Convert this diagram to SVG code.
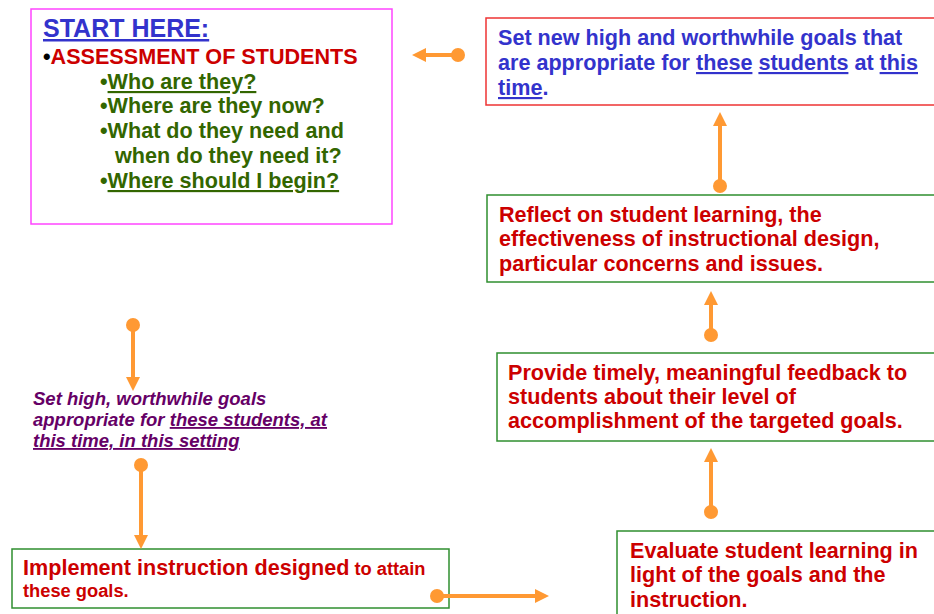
<svg xmlns="http://www.w3.org/2000/svg" width="934" height="614" viewBox="0 0 934 614">
  <style>
    text { font-family: "Liberation Sans", Arial, sans-serif; font-weight: bold; }
    .box { fill: #ffffff; stroke-width: 1.5; }
    .pink { stroke: #ff44ff; }
    .redline { stroke: #ee3333; }
    .greenline { stroke: #2f8f2f; }
    .blue { fill: #3333cc; }
    .red { fill: #cc0000; }
    .green { fill: #336600; }
    .purple { fill: #660066; font-style: italic; }
    .u { text-decoration: underline; }
    .big { font-size: 21.6px; }
    .conn { stroke: #ff9933; stroke-width: 4; fill: none; marker-start: url(#dot); marker-end: url(#head); }
  </style>
  <defs>
    <marker id="head" markerUnits="userSpaceOnUse" viewBox="0 0 14 14" refX="0" refY="7" markerWidth="14" markerHeight="14" orient="auto">
      <path d="M0,0 L14,7 L0,14 z" fill="#ff9933"/>
    </marker>
    <marker id="dot" markerUnits="userSpaceOnUse" viewBox="0 0 14 14" refX="7" refY="7" markerWidth="14" markerHeight="14" orient="auto">
      <circle cx="7" cy="7" r="7" fill="#ff9933"/>
    </marker>
  </defs>

  <rect width="934" height="614" fill="#ffffff"/>

  <!-- starting point: assessment -->
  <g id="start">
    <rect class="box pink" x="31" y="9" width="361" height="215"/>
    <text x="43" y="37" class="blue u" font-size="25">START HERE:</text>
    <text x="43" y="64" class="big"><tspan fill="#000000">•</tspan><tspan class="red">ASSESSMENT OF STUDENTS</tspan></text>
    <text x="100" y="89" class="big green">•<tspan class="u">Who are they?</tspan></text>
    <text x="100" y="113" class="big green">•Where are they now?</text>
    <text x="100" y="138" class="big green">•What do they need and</text>
    <text x="115" y="163" class="big green">when do they need it?</text>
    <text x="100" y="188" class="big green">•<tspan class="u">Where should I begin?</tspan></text>
  </g>

  <!-- new goals -->
  <g id="new-goals">
    <rect class="box redline" x="486" y="18" width="460" height="87"/>
    <text x="498" y="45" class="big blue">Set new high and worthwhile goals that</text>
    <text x="498" y="70" class="big blue">are appropriate for <tspan class="u">these</tspan> <tspan class="u">students</tspan> at <tspan class="u">this</tspan></text>
    <text x="498" y="95" class="big blue"><tspan class="u">time</tspan>.</text>
  </g>

  <!-- reflect -->
  <g id="reflect">
    <rect class="box greenline" x="487" y="195" width="460" height="87"/>
    <text x="499" y="222" class="big red">Reflect on student learning, the</text>
    <text x="499" y="246" class="big red">effectiveness of instructional design,</text>
    <text x="499" y="271" class="big red">particular concerns and issues.</text>
  </g>

  <!-- feedback -->
  <g id="feedback">
    <rect class="box greenline" x="497" y="353" width="450" height="88"/>
    <text x="508" y="380" class="big red">Provide timely, meaningful feedback to</text>
    <text x="508" y="404" class="big red">students about their level of</text>
    <text x="508" y="428" class="big red">accomplishment of the targeted goals.</text>
  </g>

  <!-- evaluate -->
  <g id="evaluate">
    <rect class="box greenline" x="617" y="531" width="330" height="100"/>
    <text x="630" y="558" class="big red">Evaluate student learning in</text>
    <text x="630" y="582" class="big red">light of the goals and the</text>
    <text x="630" y="607" class="big red">instruction.</text>
  </g>

  <!-- goal setting -->
  <g id="set-goals">
    <text x="33" y="405" class="purple" font-size="18.5">Set high, worthwhile goals</text>
    <text x="33" y="426" class="purple" font-size="18.5">appropriate for <tspan class="u">these students, at</tspan></text>
    <text x="33" y="447" class="purple u" font-size="18.5">this time, in this setting</text>
  </g>

  <!-- implement -->
  <g id="implement">
    <rect class="box greenline" x="12" y="549" width="437" height="59"/>
    <text x="23" y="575" class="red"><tspan font-size="21.6">Implement instruction designed</tspan><tspan font-size="18.3"> to attain</tspan></text>
    <text x="23" y="597" class="red" font-size="18.3">these goals.</text>
  </g>

  <!-- connectors -->
  <g id="connectors">
    <line class="conn" x1="458" y1="55" x2="426" y2="55"/>
    <line class="conn" x1="720" y1="186" x2="720" y2="126"/>
    <line class="conn" x1="711" y1="335" x2="711" y2="305"/>
    <line class="conn" x1="711" y1="512" x2="711" y2="462"/>
    <line class="conn" x1="133" y1="325" x2="133" y2="377"/>
    <line class="conn" x1="141" y1="465" x2="141" y2="535"/>
    <line class="conn" x1="437" y1="596" x2="535" y2="596"/>
  </g>
</svg>
